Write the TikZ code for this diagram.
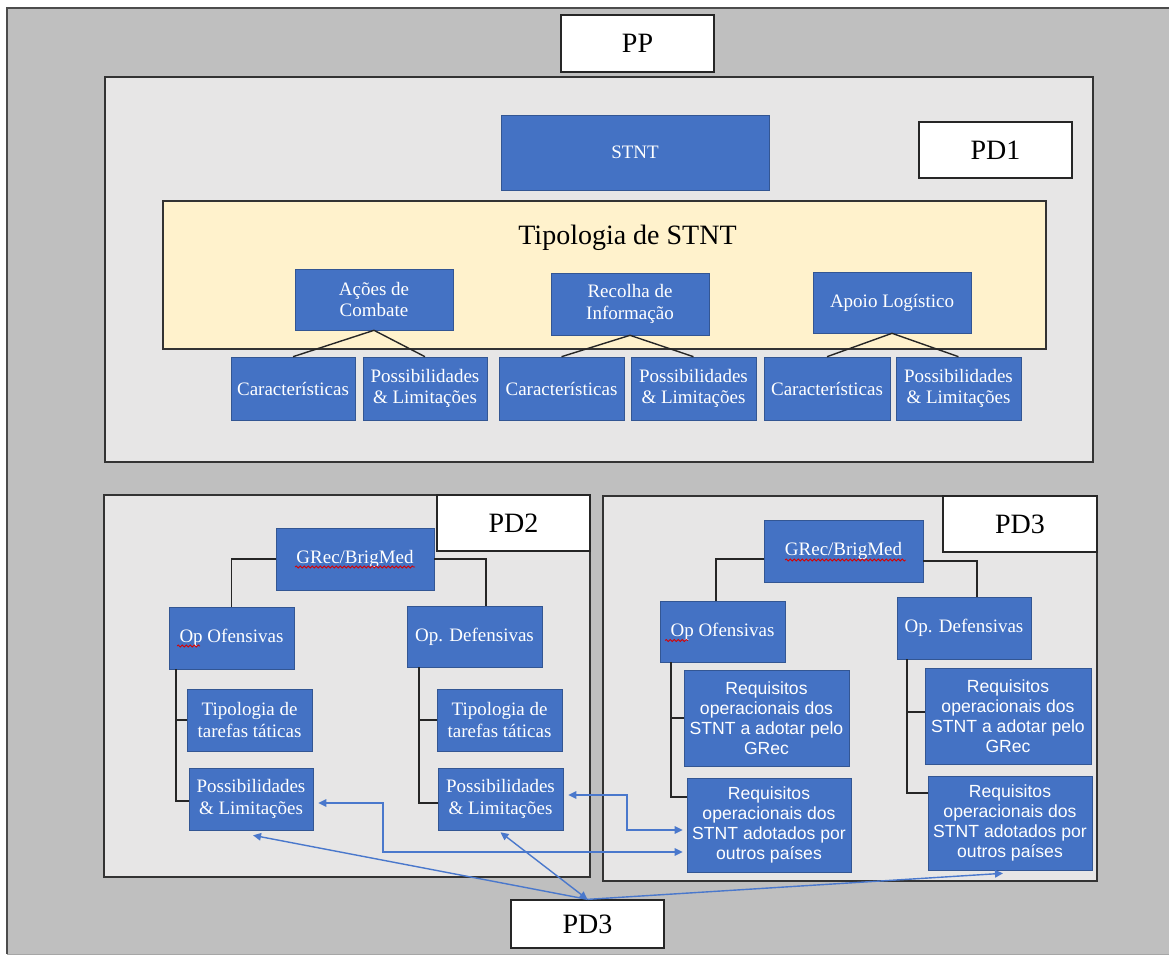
\documentclass[tikz,border=0pt]{standalone}
\usepackage{fontspec}
\setmainfont{Liberation Serif}
\newfontfamily\sansf{Liberation Sans}
\usetikzlibrary{arrows.meta,calc,decorations.pathmorphing}
\definecolor{bgray}{HTML}{BFBFBF}
\definecolor{pgray}{HTML}{E7E6E6}
\definecolor{mblue}{HTML}{4472C4}
\definecolor{myel}{HTML}{FFF2CC}
\definecolor{ablue}{HTML}{4A78CC}
\begin{document}
\begin{tikzpicture}[x=1pt,y=-1pt,
  panel/.style={fill=pgray,draw=black!80,line width=1.6pt,inner sep=0pt},
  lbl/.style={fill=white,draw=black!85,line width=1.3pt,inner sep=0pt,font=\fontsize{28}{30}\selectfont},
  bb/.style={fill=mblue,draw=mblue!75!black,line width=0.6pt,text=white,inner sep=0pt,align=center,font=\fontsize{19}{21.5}\selectfont},
  rq/.style={bb,font=\sansf\fontsize{17.6}{20}\selectfont},
  conn/.style={draw=black!85,line width=1.4pt},
  barr/.style={draw=ablue,line width=1.4pt,-{Triangle[length=8pt,width=7.5pt]}},
  wavy/.style={draw=red!85!black,line width=0.8pt,decorate,decoration={snake,amplitude=1pt,segment length=4pt}}]
\useasboundingbox (0,0) rectangle (1169,956);
\fill[white] (0,0) rectangle (1169,956);
\fill[bgray] (7,8) rectangle (1169,954);
\draw[black!70,line width=1.5pt] (1169,8) -- (7,8) -- (7,954);
\draw[gray!70,line width=0.8pt] (7,954) -- (1169,954);

% top label
\node[lbl,minimum width=153pt,minimum height=57pt] (PP) at (637.5,43.5) {PP};

% PD1 panel
\node[panel,minimum width=988pt,minimum height=385pt] (pd1panel) at (599,269.5) {};
\node[lbl,minimum width=153pt,minimum height=56pt] (PD1) at (995.5,150) {PD1};
\node[bb,minimum width=268pt,minimum height=75pt] (STNT) at (635,152.5) {STNT};
\node[fill=myel,draw=black!80,line width=1.3pt,minimum width=883pt,minimum height=148pt,inner sep=0pt] (tip) at (604.5,275) {};
\node[font=\fontsize{28}{30}\selectfont] (tiptitle) at (627.5,238) {Tipologia de STNT};
\node[bb,minimum width=158pt,minimum height=61pt] (acoes) at (374,299.5) {Ações de\\Combate};
\node[bb,minimum width=158pt,minimum height=62pt] (recolha) at (630,304) {Recolha de\\Informação};
\node[bb,minimum width=158pt,minimum height=61pt] (apoio) at (892,302.5) {Apoio Logístico};
\node[bb,minimum width=124pt,minimum height=63pt] (car1) at (293,388.5) {Características};
\node[bb,minimum width=124pt,minimum height=63pt] (pos1) at (425,388.5) {Possibilidades\\\& Limitações};
\node[bb,minimum width=125pt,minimum height=63pt] (car2) at (561.5,388.5) {Características};
\node[bb,minimum width=125pt,minimum height=63pt] (pos2) at (693.5,388.5) {Possibilidades\\\& Limitações};
\node[bb,minimum width=126pt,minimum height=63pt] (car3) at (827,388.5) {Características};
\node[bb,minimum width=125pt,minimum height=63pt] (pos3) at (958.5,388.5) {Possibilidades\\\& Limitações};
\draw[conn] (car1.north) -- (acoes.south) -- (pos1.north);
\draw[conn] (car2.north) -- (recolha.south) -- (pos2.north);
\draw[conn] (car3.north) -- (apoio.south) -- (pos3.north);

% PD2 panel
\node[panel,minimum width=486pt,minimum height=382pt] (pd2panel) at (347,686) {};
\node[lbl,minimum width=153pt,minimum height=56pt] (PD2) at (513.5,523) {PD2};
\node[bb,minimum width=158pt,minimum height=62pt] (GRec2) at (355,559) {GRec/BrigMed};
\node[bb,minimum width=125pt,minimum height=62pt] (OpOf2) at (231.5,638) {Op Ofensivas};
\node[bb,minimum width=135pt,minimum height=61pt] (OpDef2) at (474.5,636.5) {Op. Defensivas};
\node[bb,minimum width=125pt,minimum height=62pt] (Tip2L) at (249.5,720) {Tipologia de\\tarefas táticas};
\node[bb,minimum width=124pt,minimum height=62pt] (Pos2L) at (251,799) {Possibilidades\\\& Limitações};
\node[bb,minimum width=125pt,minimum height=62pt] (Tip2R) at (499.5,720) {Tipologia de\\tarefas táticas};
\node[bb,minimum width=125pt,minimum height=62pt] (Pos2R) at (500.5,799) {Possibilidades\\\& Limitações};
\draw[wavy] ($(GRec2.center)+(-60,8)$) -- ($(GRec2.center)+(60,8)$);
\draw[wavy] ($(OpOf2.center)+(-54.5,8)$) -- ($(OpOf2.center)+(-31.5,8)$);
\draw[conn] (GRec2.west) -| (OpOf2.north);
\draw[conn] (GRec2.east) -| ([shift={(11.5,0)}]OpDef2.north);
\draw[conn] ([shift={(-55.5,0)}]OpOf2.south) |- ([shift={(0,2)}]Pos2L.west);
\draw[conn] (Tip2L.west) -- ++(-11,0);
\draw[conn] ([shift={(-55.5,0)}]OpDef2.south) |- ([shift={(0,4)}]Pos2R.west);
\draw[conn] (Tip2R.west) -- ++(-18,0);

% PD3 panel
\node[panel,minimum width=494pt,minimum height=385pt] (pd3panel) at (850,688.5) {};
\node[lbl,minimum width=154pt,minimum height=56pt] (PD3) at (1020,524) {PD3};
\node[bb,minimum width=159pt,minimum height=62pt] (GRec3) at (843.5,551) {GRec/BrigMed};
\node[bb,minimum width=125pt,minimum height=61pt] (OpOf3) at (722.5,631.5) {Op Ofensivas};
\node[bb,minimum width=134pt,minimum height=62pt] (OpDef3) at (964,628) {Op. Defensivas};
\node[rq,minimum width=165pt,minimum height=96pt] (ReqGL) at (766.5,718) {Requisitos\\operacionais dos\\STNT a adotar pelo\\GRec};
\node[rq,minimum width=164pt,minimum height=94pt] (ReqOL) at (769,825) {Requisitos\\operacionais dos\\STNT adotados por\\outros países};
\node[rq,minimum width=166pt,minimum height=96pt] (ReqGR) at (1008,716) {Requisitos\\operacionais dos\\STNT a adotar pelo\\GRec};
\node[rq,minimum width=164pt,minimum height=94pt] (ReqOR) at (1010,823) {Requisitos\\operacionais dos\\STNT adotados por\\outros países};
\draw[wavy] ($(GRec3.center)+(-58.5,9)$) -- ($(GRec3.center)+(62,9)$);
\draw[wavy] ($(OpOf3.center)+(-57.5,9)$) -- ($(OpOf3.center)+(-34.5,9)$);
\draw[conn] ([shift={(0,8)}]GRec3.west) -| ([shift={(-6.5,0)}]OpOf3.north);
\draw[conn] ([shift={(0,10)}]GRec3.east) -| ([shift={(13,0)}]OpDef3.north);
\draw[conn] ([shift={(-51.5,0)}]OpOf3.south) |- ([shift={(0,-28)}]ReqOL.west);
\draw[conn] (ReqGL.west) -- ++(-13,0);
\draw[conn] ([shift={(-57,0)}]OpDef3.south) |- ([shift={(0,-30)}]ReqOR.west);
\draw[conn] ([shift={(0,-4)}]ReqGR.west) -- ++(-18,0);

% bottom label and arrows
\node[lbl,minimum width=153pt,minimum height=48pt] (PD3b) at (587.5,924) {PD3};
\draw[barr] (PD3b.north) -- ([shift={(2,5)}]Pos2L.south);
\draw[barr,{Triangle[length=8pt,width=7.5pt]}-{Triangle[length=8pt,width=7.5pt]}] (PD3b.north) -- ([shift={(0,2)}]Pos2R.south);
\draw[barr] (PD3b.north) -- ([shift={(-7,3)}]ReqOR.south);
\draw[barr,{Triangle[length=8pt,width=7.5pt]}-{Triangle[length=8pt,width=7.5pt]}] ([shift={(5,4)}]Pos2L.east) -| (383,852) -- ([shift={(-4,27)}]ReqOL.west);
\draw[barr,{Triangle[length=8pt,width=7.5pt]}-{Triangle[length=8pt,width=7.5pt]}] ([shift={(5,-4)}]Pos2R.east) -| (627,830) -- ([shift={(-4,5)}]ReqOL.west);
\end{tikzpicture}
\end{document}
